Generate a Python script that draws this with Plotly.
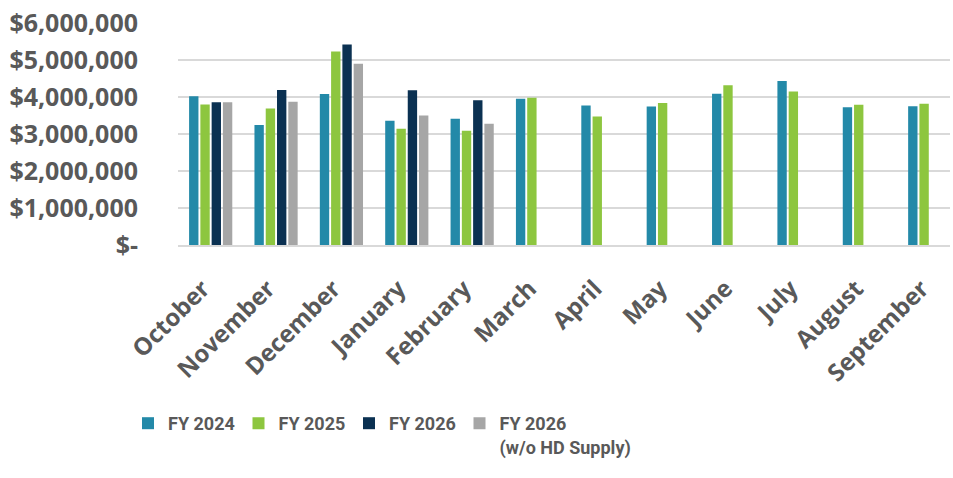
import plotly.graph_objects as go

months = ["October", "November", "December", "January", "February", "March",
          "April", "May", "June", "July", "August", "September"]
fy2024 = [4020000, 3240000, 4080000, 3360000, 3410000, 3950000,
          3770000, 3740000, 4090000, 4430000, 3720000, 3750000]
fy2025 = [3800000, 3690000, 5230000, 3140000, 3090000, 3980000,
          3470000, 3840000, 4320000, 4150000, 3790000, 3820000]
fy2026 = [3860000, 4190000, 5420000, 4180000, 3910000, None,
          None, None, None, None, None, None]
fy2026_wo = [3860000, 3870000, 4900000, 3500000, 3280000, None,
             None, None, None, None, None, None]

series_names = ["FY 2024", "FY 2025", "FY 2026", "FY 2026<br>(w/o HD Supply)"]
series_vals = [fy2024, fy2025, fy2026, fy2026_wo]
colors = ["#2389A8", "#8DC63F", "#0B3152", "#A6A6A6"]
legend_ids = ["legend", "legend2", "legend3", "legend4"]

tick_vals = [0, 1000000, 2000000, 3000000, 4000000, 5000000, 6000000]
tick_text = ["$-", "$1,000,000", "$2,000,000", "$3,000,000", "$4,000,000",
             "$5,000,000", "$6,000,000"]

fig = go.Figure()
for name, vals, c, lg in zip(series_names, series_vals, colors, legend_ids):
    fig.add_trace(go.Bar(x=months, y=vals, name=name, legend=lg, showlegend=True,
                         marker=dict(color=c, line=dict(width=0))))

label_color = "#595959"
legend_font = dict(family="Roboto", size=18, color=label_color, weight="bold")

legend_layout = {}
for i, lg in enumerate(legend_ids):
    legend_layout[lg] = dict(
        orientation="h", xref="container", yref="container",
        x=(128 + i * 110.5) / 953, y=1 - 405 / 478, xanchor="left", yanchor="top",
        valign="top", font=legend_font, bgcolor="rgba(0,0,0,0)",
    )

fig.update_layout(
    width=953, height=478, showlegend=True,
    barmode="group", bargap=0.31, bargroupgap=0.17,
    plot_bgcolor="white", paper_bgcolor="white",
    margin=dict(l=178, r=3, t=23, b=233, autoexpand=False),
    xaxis=dict(
        range=[-0.5, 11.31], tickangle=-45, automargin=False,
        tickfont=dict(family="Open Sans", size=24, color=label_color, weight="bold"),
        showgrid=False, showline=True, linecolor="#D9D9D9", linewidth=2,
        ticks="", ticklabelstandoff=18, ticklabelshift=-8,
    ),
    yaxis=dict(
        range=[0, 6000000], tickvals=tick_vals, ticktext=tick_text, automargin=False,
        tickfont=dict(family="Open Sans", size=25, color=label_color, weight="bold"),
        showgrid=True, gridcolor="#D9D9D9", gridwidth=2,
        zeroline=False, showline=False, ticks="", ticklabelstandoff=39,
    ),
    **legend_layout,
)

fig.write_html("out.html", config={"displayModeBar": False},
               post_script="document.body.style.margin='0';")
